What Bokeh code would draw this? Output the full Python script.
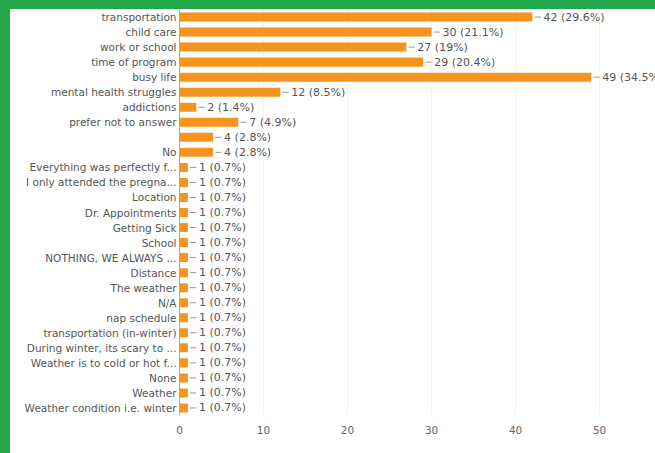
from bokeh.plotting import figure
from bokeh.models import ColumnDataSource, FactorRange, Range1d, Spacer
from bokeh.layouts import row, column
from bokeh.embed import file_html
from bokeh.resources import INLINE
from bokeh.core.properties import value

categories = [
    "transportation", "child care", "work or school", "time of program", "busy life",
    "mental health struggles", "addictions", "prefer not to answer", " ", "No",
    "Everything was perfectly f...", "I only attended the pregna...", "Location",
    "Dr. Appointments", "Getting Sick", "School", "NOTHING, WE ALWAYS ...",
    "Distance", "The weather", "N/A", "nap schedule", "transportation (in-winter)",
    "During winter, its scary to ...", "Weather is to cold or hot f...", "None",
    "Weather", "Weather condition i.e. winter",
]
counts = [42, 30, 27, 29, 49, 12, 2, 7, 4, 4,
          1, 1, 1, 1, 1, 1, 1, 1, 1, 1, 1, 1, 1, 1, 1, 1, 1]
percents = ["29.6%", "21.1%", "19%", "20.4%", "34.5%", "8.5%", "1.4%", "4.9%", "2.8%", "2.8%",
            "0.7%", "0.7%", "0.7%", "0.7%", "0.7%", "0.7%", "0.7%", "0.7%", "0.7%", "0.7%",
            "0.7%", "0.7%", "0.7%", "0.7%", "0.7%", "0.7%", "0.7%"]
x_ticks = [0, 10, 20, 30, 40, 50]

FONT = "DejaVu Sans"
GREEN = "#22a84b"

labels = [f"{c} ({p})" for c, p in zip(counts, percents)]
src = ColumnDataSource(dict(
    cat=categories,
    val=counts,
    label=labels,
    lead0=[c + 0.25 for c in counts],
    lead1=[c + 1.0 for c in counts],
))

p = figure(
    width=645, height=444,
    y_range=FactorRange(factors=list(reversed(categories)), range_padding=0),
    x_range=Range1d(0, 56.65),
    output_backend="svg", toolbar_location=None,
    min_border_left=169, min_border_right=0, min_border_top=0, min_border_bottom=38,
)
p.outline_line_color = None
p.background_fill_color = "white"
p.border_fill_color = "white"

p.hbar(y="cat", right="val", left=0, height=0.6, source=src,
       fill_color="#f7941d", line_color=None)
p.segment(x0="lead0", x1="lead1", y0="cat", y1="cat", source=src,
          line_color="#999999", line_width=1)
p.text(x="val", y="cat", text="label", source=src, x_offset=11,
       text_baseline="middle", text_align="left", text_font_size="11px",
       text_color="#555555", text_font=value(FONT))

p.xgrid.grid_line_color = "#f3f3f3"
p.ygrid.grid_line_color = None
p.xaxis.ticker = x_ticks
p.xaxis.axis_line_color = None
p.xaxis.major_tick_line_color = None
p.xaxis.minor_tick_line_color = None
p.xaxis.major_tick_out = 0
p.xaxis.major_label_standoff = 10
p.xaxis.major_label_text_font = FONT
p.xaxis.major_label_text_font_size = "10.5px"
p.xaxis.major_label_text_color = "#666666"

p.yaxis.axis_line_color = "#aaaaaa"
p.yaxis.major_tick_line_color = None
p.yaxis.major_tick_out = 0
p.yaxis.major_label_standoff = 3
p.yaxis.major_label_text_font = FONT
p.yaxis.major_label_text_font_size = "10.5px"
p.yaxis.major_label_text_color = "#555555"

left_bar = Spacer(width=10, height=453, styles={"background-color": GREEN})
top_bar = Spacer(width=645, height=9, styles={"background-color": GREEN})
layout = row(left_bar, column(top_bar, p, spacing=0), spacing=0)

open("out.html", "w").write(file_html(layout, INLINE))
